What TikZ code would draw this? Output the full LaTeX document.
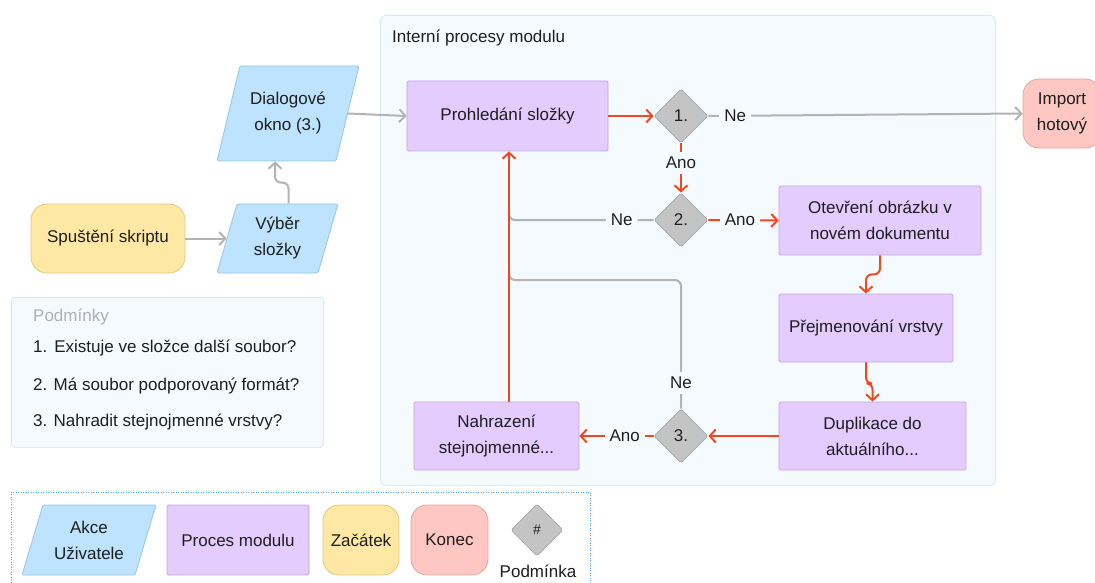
\documentclass[tikz,border=0pt]{standalone}
\usepackage{fontspec}
\setmainfont{Liberation Sans}
\usetikzlibrary{shapes.geometric,arrows.meta,calc}
\definecolor{grpbg}{HTML}{F5FAFF}
\definecolor{grpbd}{HTML}{D8E9F8}
\definecolor{procF}{HTML}{E4CCFF}
\definecolor{procB}{HTML}{C4A6E2}
\definecolor{paraF}{HTML}{BDE3FF}
\definecolor{paraB}{HTML}{95C5EA}
\definecolor{startF}{HTML}{FFE8A3}
\definecolor{startB}{HTML}{E2C77E}
\definecolor{endF}{HTML}{FFC7C2}
\definecolor{endB}{HTML}{E3A59E}
\definecolor{decF}{HTML}{C4C4C4}
\definecolor{decB}{HTML}{A8A8A8}
\definecolor{redc}{HTML}{F24822}
\definecolor{grayc}{HTML}{B3B3B3}
\definecolor{txt}{HTML}{1E1E1E}
\definecolor{hdr}{HTML}{B0B0B0}
\definecolor{legbd}{HTML}{4DA3E6}
\begin{document}
\begin{tikzpicture}[x=1pt,y=-1pt,
  font=\fontsize{17}{26}\selectfont,
  box/.style={line width=0.8pt, align=center, inner sep=2pt, text=txt},
  proc/.style={box, rectangle, draw=procB, fill=procF, rounded corners=1.5pt},
  parashape/.style={draw=paraB, fill=paraF, line width=0.8pt, rounded corners=1.5pt},
  paratext/.style={box, rectangle},
  startbox/.style={box, rectangle, draw=startB, fill=startF, rounded corners=16pt},
  endbox/.style={box, rectangle, draw=endB, fill=endF, rounded corners=16pt},
  dec/.style={box, diamond, draw=decB, fill=decF, minimum size=54pt, inner sep=0pt, rounded corners=1.5pt},
  lbl/.style={fill=grpbg, text=txt, inner sep=5pt},
  redarrow/.style={draw=redc, line width=2pt, -{Straight Barb[length=6pt,width=13pt,line width=2pt]}},
  grayarrow/.style={draw=grayc, line width=2pt, -{Straight Barb[length=6pt,width=13pt,line width=2pt]}},
  grayline/.style={draw=grayc, line width=2pt},
  plain/.style={text=txt, inner sep=0pt, anchor=west}
]
\useasboundingbox (0,0) rectangle (1095,583);
\fill[white] (0,0) rectangle (1095,583);

% group
\node[draw=grpbd, fill=grpbg, line width=0.8pt, rounded corners=5pt, minimum width=615pt, minimum height=470pt, anchor=north west, inner sep=0pt] (grp) at (380,15) {};
\node[plain] (grptitle) at (392,38) {Interní procesy modulu};

% conditions box
\node[draw=grpbd, fill=grpbg, line width=0.8pt, rounded corners=3pt, minimum width=312pt, minimum height=150pt, anchor=north west, inner sep=0pt] (cond) at (11,297) {};
\node[plain, text=hdr] (condh) at (33,317) {Podmínky};
\node[plain] (c1) at (33,348) {1.\hspace{7pt}Existuje ve složce další soubor?};
\node[plain] (c2) at (33,386) {2. Má soubor podporovaný formát?};
\node[plain] (c3) at (33,422) {3. Nahradit stejnojmenné vrstvy?};

% parallelogram shapes
\path[parashape] (217,273) -- (237,204) -- (338,204) -- (318,273) -- cycle;
\path[parashape] (217,161) -- (240,66) -- (359,66) -- (336,161) -- cycle;
\path[parashape] (22,575) -- (43,505) -- (156,505) -- (135,575) -- cycle;

% main nodes
\node[startbox, minimum width=154pt, minimum height=69pt] (spust) at (108,238.5) {Spuštění skriptu};
\node[paratext, minimum width=101pt, minimum height=69pt] (vyber) at (277.5,238.5) {Výběr\\složky};
\node[paratext, minimum width=119pt, minimum height=95pt] (dlg) at (288,113.5) {Dialogové\\okno (3.)};
\node[proc, minimum width=201pt, minimum height=70pt] (proh) at (507.5,116) {Prohledání složky};
\node[dec] (d1) at (681,116) {1.};
\node[endbox, minimum width=78pt, minimum height=69pt] (imp) at (1062,113.5) {Import\\hotový};
\node[dec] (d2) at (681,220) {2.};
\node[proc, minimum width=202pt, minimum height=69pt] (otev) at (880,220.5) {Otevření obrázku v\\novém dokumentu};
\node[proc, minimum width=174pt, minimum height=68pt] (prej) at (866,328) {Přejmenování vrstvy};
\node[proc, minimum width=187pt, minimum height=68pt] (dup) at (872.5,436) {Duplikace do\\aktuálního...};
\node[dec] (d3) at (681,436) {3.};
\node[proc, minimum width=165pt, minimum height=68pt] (nahr) at (496.5,436) {Nahrazení\\stejnojmenné...};

% connectors left
\draw[grayarrow] (spust) -- (vyber);
\draw[grayarrow, rounded corners=6pt] ($(vyber.north)+(11,0)$) -- ++(0,-21) -| ($(dlg.south)+(-13,0)$);
\draw[grayarrow] (dlg.east) -- (proh.west);

% gray returns
\coordinate (rx) at (509,0);
\coordinate (j3) at (0,280);
\draw[grayline, rounded corners=6pt] (d3.north) -- node[lbl, pos=0.2]{Ne} (d3.north |- j3) -- (rx |- j3) -- ++(0,-12);
\draw[grayline, rounded corners=6pt] (d2.west) -- node[lbl, pos=0.22]{Ne} (rx |- d2.west) -- ++(0,-12);
\draw[grayarrow] (d1.east) -- node[lbl, pos=0.085]{Ne} (imp.west);

% red flow
\draw[redarrow] (proh.east) -- (d1.west);
\draw[redarrow] (d1.south) -- node[lbl, pos=0.4]{Ano} (d2.north);
\draw[redarrow] (d2.east) -- node[lbl, pos=0.45]{Ano} (otev.west);
\draw[redarrow, rounded corners=6pt] (otev.south) -- ++(0,19) -| (prej.north);
\draw[redarrow, rounded corners=6pt] (prej.south) -- ++(0,21) -| (dup.north);
\draw[redarrow] (dup.west) -- (d3.east);
\draw[redarrow] (d3.west) -- node[lbl, pos=0.39]{Ano} (nahr.east);
\draw[redarrow] (rx |- nahr.north) -- (rx |- proh.south);

% legend
\node[draw=legbd, line width=0.8pt, dash pattern=on 1pt off 1.5pt, minimum width=579pt, minimum height=110pt, anchor=north west, inner sep=0pt] (leg) at (11,492) {};
\node[paratext, minimum width=113pt, minimum height=70pt] (lg1) at (89,540) {Akce\\Uživatele};
\node[proc, minimum width=142pt, minimum height=70pt] (lg2) at (238,540) {Proces modulu};
\node[startbox, minimum width=76pt, minimum height=70pt] (lg3) at (361,540) {Začátek};
\node[endbox, minimum width=77pt, minimum height=70pt] (lg4) at (449.5,540) {Konec};
\node[dec, minimum size=52pt, font=\fontsize{14}{16}\selectfont] (lg5) at (537,530) {\#};
\node[text=txt, inner sep=0pt] (lg5t) at (538,571) {Podmínka};
\end{tikzpicture}
\end{document}
